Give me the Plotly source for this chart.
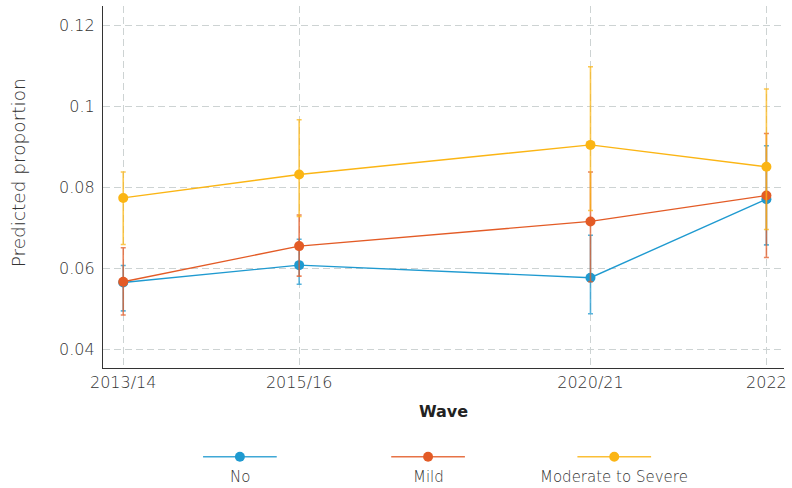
import plotly.graph_objects as go

# Survey waves and their position on the time axis (in wave-interval units)
waves = ["2013/14", "2015/16", "2020/21", "2022"]
wave_pos = [0, 1, 2.656, 3.656]

# Predicted proportions with confidence bounds, by severity group
series_names = ["No", "Mild", "Moderate to Severe"]
no_est = [0.0565, 0.0608, 0.0577, 0.0771]
no_lo = [0.0495, 0.0561, 0.0488, 0.0658]
no_hi = [0.0607, 0.0672, 0.0682, 0.0903]

mild_est = [0.0567, 0.0655, 0.0716, 0.0780]
mild_lo = [0.0485, 0.0581, 0.0567, 0.0627]
mild_hi = [0.0651, 0.0732, 0.0838, 0.0933]

mod_est = [0.0774, 0.0832, 0.0905, 0.0851]
mod_lo = [0.0659, 0.0728, 0.0743, 0.0696]
mod_hi = [0.0838, 0.0967, 0.1098, 0.1043]

colors = ["#1f9ad0", "#e35b26", "#fbb514"]
bar_colors = ["rgba(31,154,208,0.75)", "rgba(227,91,38,0.75)", "rgba(251,181,20,0.75)"]

groups = [
    (no_est, no_lo, no_hi),
    (mild_est, mild_lo, mild_hi),
    (mod_est, mod_lo, mod_hi),
]

FONT = "DejaVu Sans"
TEXT = "#333333"

fig = go.Figure()
for name, (est, lo, hi), col, bcol in zip(series_names, groups, colors, bar_colors):
    fig.add_trace(go.Scatter(
        x=wave_pos, y=est, name=name, mode="lines+markers",
        line=dict(color=col, width=1.4),
        marker=dict(color=col, size=10),
        error_y=dict(
            type="data", symmetric=False,
            array=[h - e for h, e in zip(hi, est)],
            arrayminus=[e - l for e, l in zip(est, lo)],
            color=bcol, thickness=1.6, width=2.5,
        ),
        showlegend=False,
    ))

# Legend drawn beneath the axis title: short line with a dot, label underneath
x0, x1 = 103, 787
y0, y1 = 6, 368
def px(x):
    return (x - x0) / (x1 - x0)
def py(y):
    return (y1 - y) / (y1 - y0)

legend_centers = [240.5, 429.5, 616.5]
for name, col, cx in zip(series_names, colors, legend_centers):
    fig.add_shape(type="line", xref="paper", yref="paper",
                  x0=px(cx - 37), x1=px(cx + 37), y0=py(456.7), y1=py(456.7),
                  line=dict(color=col, width=1.6), opacity=0.85)
    fig.add_shape(type="circle", xref="paper", yref="paper",
                  x0=px(cx - 5), x1=px(cx + 5), y0=py(461.7), y1=py(451.7),
                  fillcolor=col, line=dict(color=col, width=0))
    fig.add_annotation(text=name, xref="paper", yref="paper",
                       x=px(cx), y=py(477), xanchor="center", yanchor="middle",
                       showarrow=False,
                       font=dict(family=FONT, size=15, color=TEXT, weight=200))

# Vertical axis title, placed as an annotation
fig.add_annotation(text="Predicted proportion", xref="paper", yref="paper",
                   x=px(18), y=py(173), xanchor="center", yanchor="middle",
                   textangle=-90, showarrow=False,
                   font=dict(family=FONT, size=18.5, color=TEXT, weight=200))

grid = dict(showgrid=True, gridcolor="#cdd3d3", griddash="7px,4px", gridwidth=1)

fig.update_layout(
    width=792, height=488,
    margin=dict(l=x0, r=792 - x1, t=y0, b=488 - y1),
    paper_bgcolor="white", plot_bgcolor="white",
    font=dict(family=FONT, color=TEXT, weight=200),
    xaxis=dict(
        tickmode="array", tickvals=wave_pos, ticktext=waves,
        range=[-0.115, 3.756], zeroline=False,
        showline=True, linecolor="#333333", linewidth=1.2,
        ticks="", tickfont=dict(size=16, color=TEXT, weight=200),
        title=dict(text="<b>Wave</b>", font=dict(size=16, color="#222222"), standoff=14),
        **grid,
    ),
    yaxis=dict(
        tickvals=[0.04, 0.06, 0.08, 0.1, 0.12],
        ticktext=["0.04", "0.06", "0.08", "0.1", "0.12"],
        range=[0.0354, 0.1248], zeroline=False,
        showline=True, linecolor="#333333", linewidth=1.2,
        ticks="", ticklabelstandoff=4, tickfont=dict(size=16, color=TEXT, weight=200),
        **grid,
    ),
)

fig.write_html("out.html")
